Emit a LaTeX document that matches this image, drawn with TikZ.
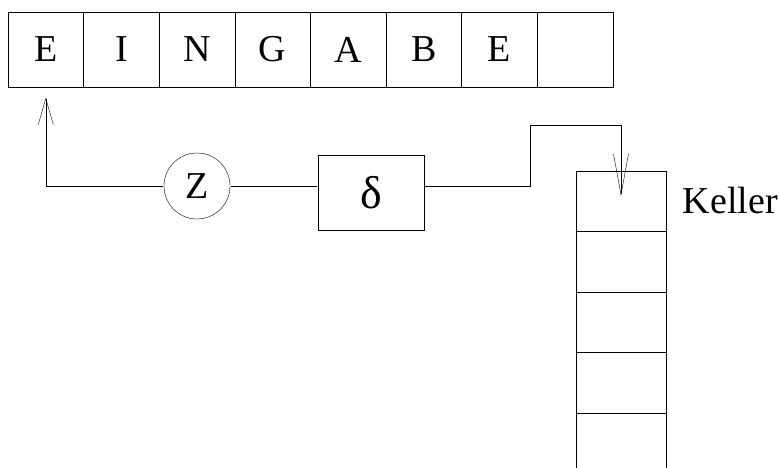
\documentclass[tikz,border=0pt]{standalone}
\usepackage{fontspec}
\setmainfont{Liberation Serif}
\usetikzlibrary{arrows.meta}
\usetikzlibrary{positioning}

\begin{document}
\begin{tikzpicture}[x=1pt,y=-1pt]
    \tikzset{
      line width=1.4pt,
      >={Straight Barb[length=26pt,width=15pt]},
      font=\fontsize{38}{40}\selectfont,
      node distance=75.6pt,
      cell/.style={draw, minimum width=75.6pt, minimum height=75pt, inner sep=0pt, outer sep=0pt},
      slot/.style={draw, minimum width=90pt, minimum height=60.5pt, inner sep=0pt, outer sep=0pt},
    }
    \useasboundingbox (0,0) rectangle (779,468);

    % Eingabeband
    \node[cell] (t1) at (45.8,49.5) {E};
    \node[cell, right of=t1] (t2) {I};
    \node[cell, right of=t2] (t3) {N};
    \node[cell, right of=t3] (t4) {G};
    \node[cell, right of=t4] (t5) {A};
    \node[cell, right of=t5] (t6) {B};
    \node[cell, right of=t6] (t7) {E};
    \node[cell, right of=t7] (t8) {};

    \node[circle, draw, minimum size=66pt, inner sep=0pt] (z) at (197,186) {Z};
    \node[draw, minimum width=106pt, minimum height=75pt, inner sep=0pt] (delta) at (371,192.5) {\fontsize{46}{48}\selectfont δ};

    % Keller
    \node[slot] (k1) at (621,201) {};
    \node[slot, below of=k1, node distance=60.5pt] (k2) {};
    \node[slot, below of=k2, node distance=60.5pt] (k3) {};
    \node[slot, below of=k3, node distance=60.5pt] (k4) {};
    \node[right=16pt of k1, inner sep=0pt] (keller) {Keller};
    \coordinate (kend) at (621,468);
    \coordinate (bend) at (530,125);

    \draw
      (k4.south west) -- (k4.south west |- kend)
      (k4.south east) -- (k4.south east |- kend);

    \draw[->] (z) -| ([yshift=-9pt]t1.south);
    \draw (z) -- (delta.west |- z);
    \draw[->, >={Straight Barb[length=41pt,width=15pt]}]
      (delta.east |- z) -| (bend) -| ([yshift=-28pt]k1.north);
\end{tikzpicture}
\end{document}
